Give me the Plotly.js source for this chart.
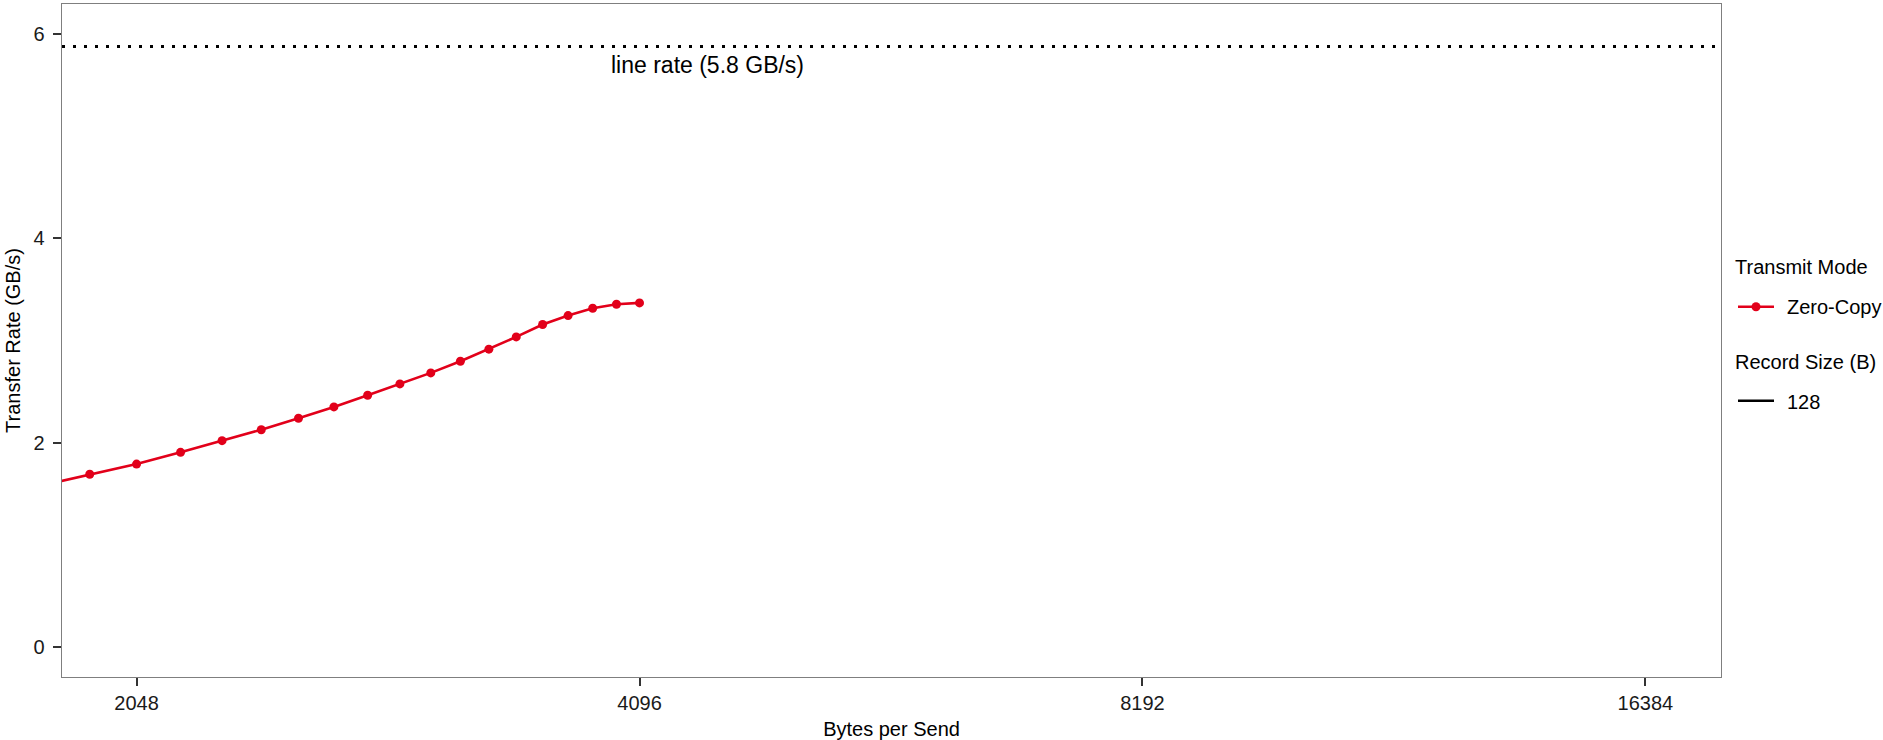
<!DOCTYPE html>
<html>
<head>
<meta charset="utf-8">
<script src="https://cdn.plot.ly/plotly-3.0.1.min.js"></script>
<style>
  html, body { margin: 0; padding: 0; background: #ffffff; }
  #chart { width: 1883px; height: 740px; }
</style>
</head>
<body>
<div id="chart"></div>
<script>
// ---- data ----
const bytesPerSend = [1792, 1920, 2048, 2176, 2304, 2432, 2560, 2688, 2816, 2944, 3072, 3200, 3328, 3456, 3584, 3712, 3840, 3968, 4096];
const zeroCopyRate = [1.576, 1.689, 1.789, 1.904, 2.018, 2.125, 2.237, 2.348, 2.462, 2.573, 2.681, 2.795, 2.913, 3.033, 3.154, 3.242, 3.314, 3.353, 3.366];
const xTickVals = [2048, 4096, 8192, 16384];
const xTickText = ["2048", "4096", "8192", "16384"];
const yTickVals = [0, 2, 4, 6];
const lineRate = [5.875];
const lineRateLabel = ["line rate (5.8 GB/s)"];
const legendTitles = ["Transmit Mode", "Record Size (B)"];
const modeNames = ["Zero-Copy"];
const recordSizes = ["128"];

// ---- style / geometry ----
const RED = "#e2001a";
const FONT = "Liberation Sans, Arial, Helvetica, sans-serif";
const W = 1883, H = 740;
const M = { l: 62, r: 162, t: 4, b: 63 };
const PW = W - M.l - M.r, PH = H - M.t - M.b;
const px2x = px => (px - M.l) / PW;           // pixel -> paper x
const px2y = py => (H - M.b - py) / PH;       // pixel -> paper y
const log2lo = 10.85173, log2hi = 14.15028;

const traces = [
  {
    x: bytesPerSend, y: zeroCopyRate,
    type: "scatter", mode: "lines+markers",
    name: modeNames[0],
    line: { color: RED, width: 2.6 },
    marker: { color: RED, size: 9 },
    cliponaxis: true,
    showlegend: false
  }
];

// legend drawn as annotations + shapes (ggplot-style two-part legend)
const legTextX = px2x(1733), keyX0 = px2x(1738), keyX1 = px2x(1774), keyXc = px2x(1756), itemTextX = px2x(1785);
const legendAnn = [
  { text: legendTitles[0], x: legTextX, y: px2y(267) },
  { text: modeNames[0], x: itemTextX, y: px2y(307.5) },
  { text: legendTitles[1], x: legTextX, y: px2y(361.5) },
  { text: recordSizes[0], x: itemTextX, y: px2y(401.5) }
].map(a => ({
  text: a.text, x: a.x, y: a.y, xref: "paper", yref: "paper",
  xanchor: "left", yanchor: "middle", showarrow: false,
  font: { family: FONT, size: 20, color: "#000" }
}));

const legendShapes = [
  { type: "line", xref: "paper", yref: "paper", x0: keyX0, x1: keyX1, y0: px2y(306.7), y1: px2y(306.7),
    line: { color: RED, width: 2.6 } },
  { type: "circle", xref: "paper", yref: "paper", xsizemode: "pixel", ysizemode: "pixel",
    xanchor: keyXc, yanchor: px2y(306.7), x0: -4.5, x1: 4.5, y0: -4.5, y1: 4.5,
    fillcolor: RED, line: { color: RED, width: 0 } },
  { type: "line", xref: "paper", yref: "paper", x0: keyX0, x1: keyX1, y0: px2y(400.7), y1: px2y(400.7),
    line: { color: "#000000", width: 2.6 } }
];

const layout = {
  width: W, height: H,
  margin: { l: M.l, r: M.r, t: M.t, b: M.b, autoexpand: false },
  paper_bgcolor: "#ffffff", plot_bgcolor: "#ffffff",
  font: { family: FONT, size: 20, color: "#000" },
  showlegend: false,
  xaxis: {
    type: "log",
    range: [log2lo * Math.LOG10E * Math.LN2, log2hi * Math.LOG10E * Math.LN2],
    tickvals: xTickVals, ticktext: xTickText,
    ticks: "outside", ticklen: 8, tickwidth: 2, tickcolor: "#333333",
    tickfont: { family: FONT, size: 20, color: "#1a1a1a" },
    showgrid: false, zeroline: false,
    showline: true, mirror: true, linecolor: "#7f7f7f", linewidth: 1.4,
    title: { text: "Bytes per Send", font: { family: FONT, size: 20, color: "#000" }, standoff: 8 }
  },
  yaxis: {
    range: [-0.294, 6.29],
    tickvals: yTickVals,
    ticks: "outside", ticklen: 8, tickwidth: 2, tickcolor: "#333333",
    ticklabelstandoff: 4,
    tickfont: { family: FONT, size: 20, color: "#1a1a1a" },
    showgrid: false, zeroline: false,
    showline: true, mirror: true, linecolor: "#7f7f7f", linewidth: 1.4,
    title: { text: "Transfer Rate (GB/s)", font: { family: FONT, size: 20, color: "#000" }, standoff: 7 }
  },
  shapes: [
    {
      type: "line", xref: "paper", yref: "y",
      x0: 0, x1: 1, y0: lineRate[0], y1: lineRate[0],
      line: { color: "#000000", width: 3, dash: "3px,8px" }
    }
  ].concat(legendShapes),
  annotations: [
    {
      x: Math.log10(4500), y: 5.69, xref: "x", yref: "y",
      text: lineRateLabel[0], showarrow: false,
      xanchor: "center", yanchor: "middle",
      font: { family: FONT, size: 23, color: "#000" }
    }
  ].concat(legendAnn)
};

Plotly.newPlot("chart", traces, layout, { displayModeBar: false, staticPlot: true });
</script>
</body>
</html>
